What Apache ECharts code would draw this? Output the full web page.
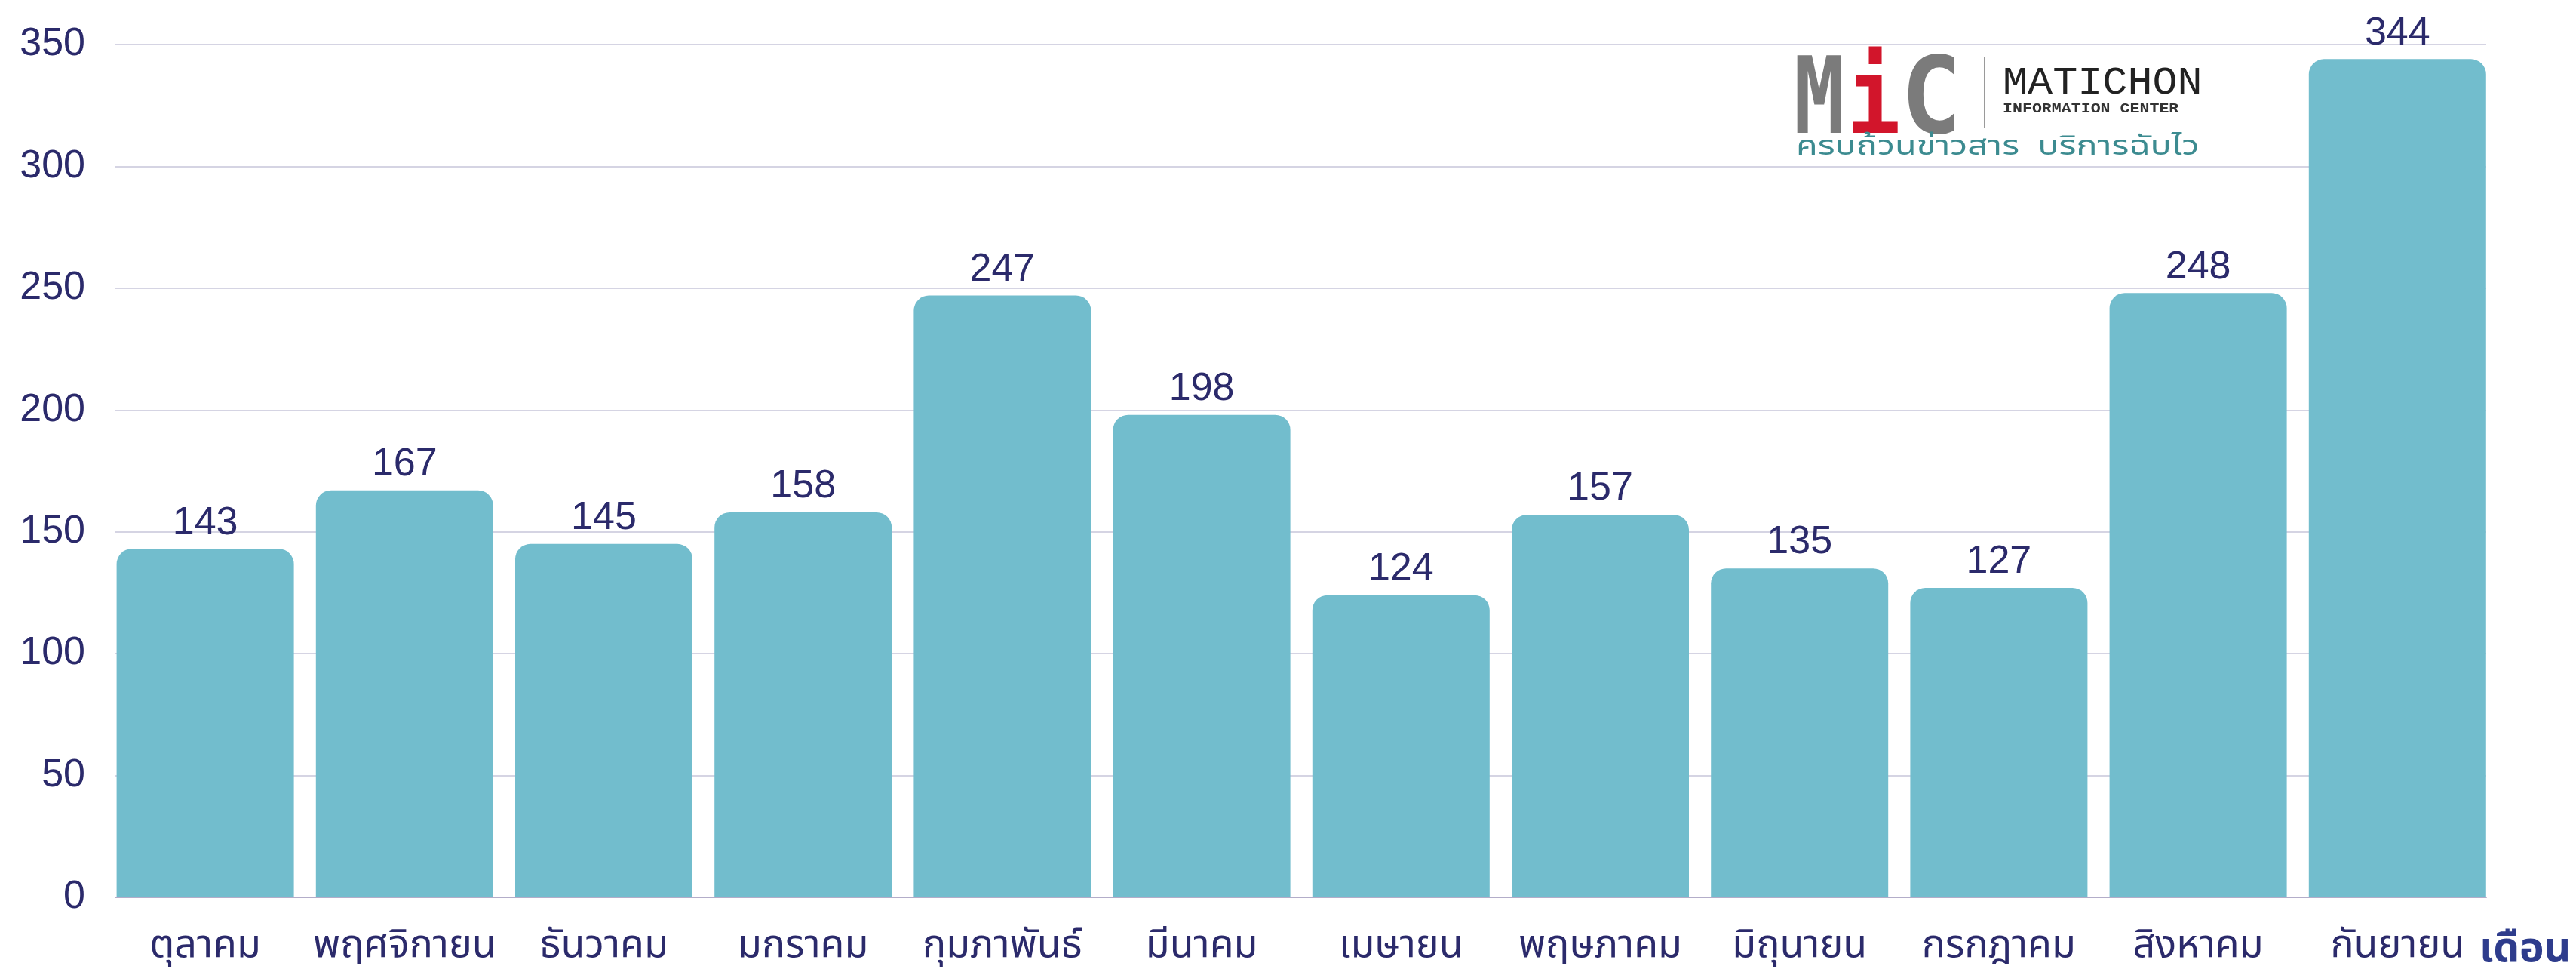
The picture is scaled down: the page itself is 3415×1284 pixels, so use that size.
<!DOCTYPE html>
<html>
<head>
<meta charset="utf-8">
<script src="https://cdn.jsdelivr.net/npm/echarts@6/dist/echarts.min.js"></script>
<style>
html,body{margin:0;padding:0;background:#fff;}
#chart{width:3415px;height:1284px;}
</style>
</head>
<body>
<div id="chart"></div>
<script>
const categories = ['ตุลาคม','พฤศจิกายน','ธันวาคม','มกราคม','กุมภาพันธ์','มีนาคม','เมษายน','พฤษภาคม','มิถุนายน','กรกฎาคม','สิงหาคม','กันยายน'];
const values = [143,167,145,158,247,198,124,157,135,127,248,344];
const yTicks = [0,50,100,150,200,250,300,350];
const axisName = 'เดือน';

const navy = '#2b2a6b';
const thaiFont = "'Noto Sans Thai','Noto Sans Thai UI','Noto Sans','DejaVu Sans',sans-serif";
const numFont = "'Liberation Sans',Arial,Helvetica,sans-serif";

const chart = echarts.init(document.getElementById('chart'), null, {renderer:'canvas'});
const gridTop = 59, gridBottom = 95;
chart.setOption({
  backgroundColor:'#ffffff',
  animation:false,
  grid:[
    {left:140, right:104.6, top:gridTop, bottom:gridBottom},
    {left:153, right:119, top:gridTop, bottom:gridBottom}
  ],
  xAxis:[
    {type:'category', gridIndex:0, data:categories, boundaryGap:true,
     axisLine:{show:false}, axisTick:{show:false},
     axisLabel:{color:navy, fontFamily:thaiFont, fontSize:52, margin:42, interval:0}},
    {type:'value', gridIndex:1, min:0, max:1, show:true,
     axisLine:{show:true, lineStyle:{color:'#b3adc9', width:2}},
     axisTick:{show:false}, axisLabel:{show:false}, splitLine:{show:false}}
  ],
  yAxis:[
    {type:'value', gridIndex:0, min:0, max:350, show:false, splitLine:{show:false}},
    {type:'value', gridIndex:1, min:yTicks[0], max:yTicks[yTicks.length-1], interval:50,
     axisLine:{show:false}, axisTick:{show:false},
     axisLabel:{color:navy, fontFamily:numFont, fontSize:52, margin:40},
     splitLine:{show:true, lineStyle:{color:'#d5d4e3', width:2}}}
  ],
  title:{text:axisName, left:3282, top:1230,
    textStyle:{color:'#2e3c8c', fontFamily:thaiFont, fontWeight:'bold', fontSize:55}},
  series:[{
    type:'bar', xAxisIndex:0, yAxisIndex:0, data:values, barWidth:235,
    itemStyle:{color:'#72bdcd', borderRadius:[20,20,0,0]},
    label:{show:true, position:'top', distance:8, color:navy, fontFamily:numFont, fontSize:52},
    z:3
  }],
  graphic:[
    {type:'text', left:2378, top:70, z:10, scaleX:0.8, style:{text:'M', fill:'#7b7b7b', font:"bold 140px 'DejaVu Sans Mono'"}},
    {type:'text', left:2448, top:70, z:10, scaleX:0.85, style:{text:'i', fill:'#d2152b', font:"bold 140px 'DejaVu Sans Mono'"}},
    {type:'text', left:2520, top:70, z:10, scaleX:0.95, style:{text:'C', fill:'#7b7b7b', font:"bold 140px 'DejaVu Sans Mono'"}},
    {type:'rect', shape:{x:2630, y:76, width:2, height:94}, z:10, style:{fill:'#9a9a9a'}},
    {type:'text', left:2655, top:84, z:10, scaleX:1.06, style:{text:'MATICHON', fill:'#222222', font:"52px 'Liberation Mono'"}},
    {type:'text', left:2655, top:135, z:10, scaleX:1.2, style:{text:'INFORMATION CENTER', fill:'#333333', font:"bold 18px 'Liberation Mono'"}},
    {type:'text', left:2381, top:180, z:10, scaleX:1.3, style:{text:'ครบถ้วนข่าวสาร  บริการฉับไว', fill:'#3c8b90', font:"36px "+thaiFont}}
  ]
});
</script>
</body>
</html>
